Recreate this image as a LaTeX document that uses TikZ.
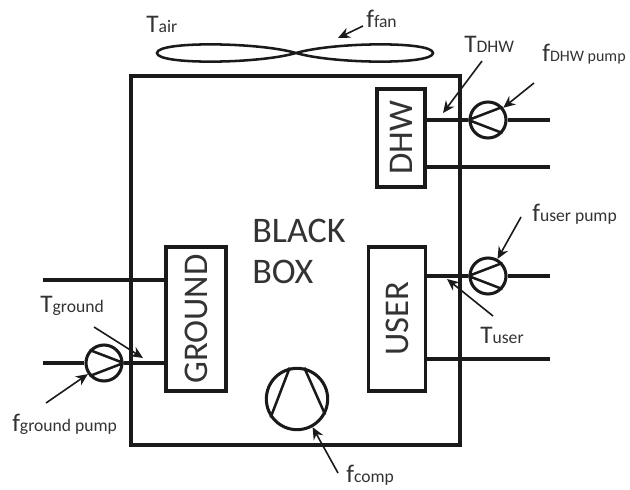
\documentclass[tikz,border=0pt]{standalone}
\usepackage{fontspec}
\setmainfont{Carlito}
\usetikzlibrary{arrows.meta,positioning}
\definecolor{labelgray}{HTML}{333333}
\definecolor{linedark}{HTML}{1A1A1A}
\newcommand{\sublabel}[3][13.2]{{\fontsize{19}{19}\selectfont #2}{\fontsize{#1}{#1}\selectfont #3}}
\tikzset{
    wall/.style={draw=linedark,line width=2.3pt},
    pipe/.style={draw=linedark,line width=3pt},
    thinline/.style={draw=linedark,line width=1.9pt},
    pointer/.style={draw=linedark,line width=1.2pt,-{Stealth[length=9pt,width=8pt]}},
    blockbox/.style={wall,rotate=90,inner sep=0pt,text=labelgray,font=\fontsize{26}{26}\selectfont},
    pumpnode/.style={circle,wall,minimum size=27pt,inner sep=0pt},
    tag/.style={inner sep=0pt,text=labelgray,anchor=base west}
}
\begin{document}
\begin{tikzpicture}[x=0.75pt,y=-0.75pt]
\useasboundingbox (0,0) rectangle (630,489);
% Outer box and fan
\draw[wall] (131,76) rectangle (460,445);
\coordinate (fanleft) at (157,53);
\coordinate (fanmid) at (296,53);
\coordinate (fanright) at (433,53);
\draw[thinline] (fanmid) .. controls (258,42) and (157,41) .. (fanleft) .. controls (157,65) and (258,64) .. (fanmid)
    .. controls (334,42) and (433,41) .. (fanright) .. controls (433,65) and (334,64) .. (fanmid);

% Blocks
\node[blockbox,minimum width=73.5pt,minimum height=36pt] (dhwbox) at (401,138) {DHW};
\node[blockbox,minimum width=108pt,minimum height=43pt] (userbox) at (397,319) {USER};
\node[blockbox,minimum width=108pt,minimum height=45pt] (groundbox) at (196,319) {GROUND};
\node[text=labelgray,font=\fontsize{27}{30.75}\selectfont,align=left,inner sep=0pt] (blackbox) at (299,251) {BLACK\\BOX};

% Pumps
\node[pumpnode] (dhwpump) at (488,120) {};
\node[pumpnode] (userpump) at (488,276) {};
\node[pumpnode] (groundpump) at (104,363) {};
\node[circle,wall,minimum size=46pt,inner sep=0pt] (comp) at (297,399) {};

\foreach \p/\s in {dhwpump/0,userpump/0,groundpump/180} {
    \draw[thinline] (\p.\s+180) -- (\p.\s+42) (\p.\s+180) -- (\p.\s-42);
    \draw[line width=1.1pt,draw=linedark] (\p.\s+25) -- (\p.\s-25);
}
\draw[thinline] (comp.103) -- (comp.215);
\draw[thinline] (comp.77) -- (comp.-29);

% Pipes
\coordinate (dhwout) at (550,120);
\coordinate (dhwret) at (550,167);
\coordinate (userout) at (550,276);
\coordinate (userret) at (550,359);
\coordinate (groundout) at (43,280);
\coordinate (groundin) at (43,363);
\draw[pipe] (dhwout) -- (dhwpump.east);
\draw[pipe] (dhwpump.west) -- (dhwbox.south |- dhwpump);
\draw[pipe] (dhwret) -- (dhwbox.south |- dhwret);
\draw[pipe] (userout) -- (userpump.east);
\draw[pipe] (userpump.west) -- (userbox.south |- userpump);
\draw[pipe] (userret) -- (userbox.south |- userret);
\draw[pipe] (groundout) -- (groundbox.north |- groundout);
\draw[pipe] (groundin) -- (groundpump.west);
\draw[pipe] (groundpump.east) -- (groundbox.north |- groundpump);

% Labels
\node[tag] (tair) at (146,32) {\sublabel{T}{air}};
\node[tag] (ffan) at (366,27) {\sublabel{f}{fan}};
\node[tag] (tdhw) at (464,52) {\sublabel{T}{DHW}};
\node[tag] (fdhw) at (542,61) {\sublabel[12]{f}{DHW pump}};
\node[tag] (fuser) at (532,221) {\sublabel{f}{user pump}};
\node[tag] (tuser) at (480,343) {\sublabel{T}{user}};
\node[tag] (tground) at (40,312) {\sublabel{T}{ground}};
\node[tag] (fground) at (12,431) {\sublabel{f}{ground pump}};
\node[tag] (fcomp) at (346,482) {\sublabel{f}{comp}};

% Pointers
\coordinate (ffanend) at (338,38);
\coordinate (tdhwend) at (443,113);
\coordinate (tuserend) at (447,279);
\coordinate (tgroundend) at (143,358);
\coordinate (ffanstart) at (363,26);
\coordinate (tdhwstart) at (482,61);
\coordinate (fdhwstart) at (534,83);
\coordinate (fuserstart) at (521,217);
\coordinate (tuserstart) at (493,316);
\coordinate (tgroundstart) at (94,327);
\coordinate (fgroundstart) at (46,403);
\coordinate (fcompstart) at (338,473);
\draw[pointer] (ffanstart) -- (ffanend);
\draw[pointer] (tdhwstart) -- (tdhwend);
\draw[pointer] (fdhwstart) -- (dhwpump);
\draw[pointer] (fuserstart) -- (userpump);
\draw[pointer] (tuserstart) -- (tuserend);
\draw[pointer] (tgroundstart) -- (tgroundend);
\draw[pointer] (fgroundstart) -- (groundpump);
\draw[pointer] (fcompstart) -- (comp);
\end{tikzpicture}
\end{document}
